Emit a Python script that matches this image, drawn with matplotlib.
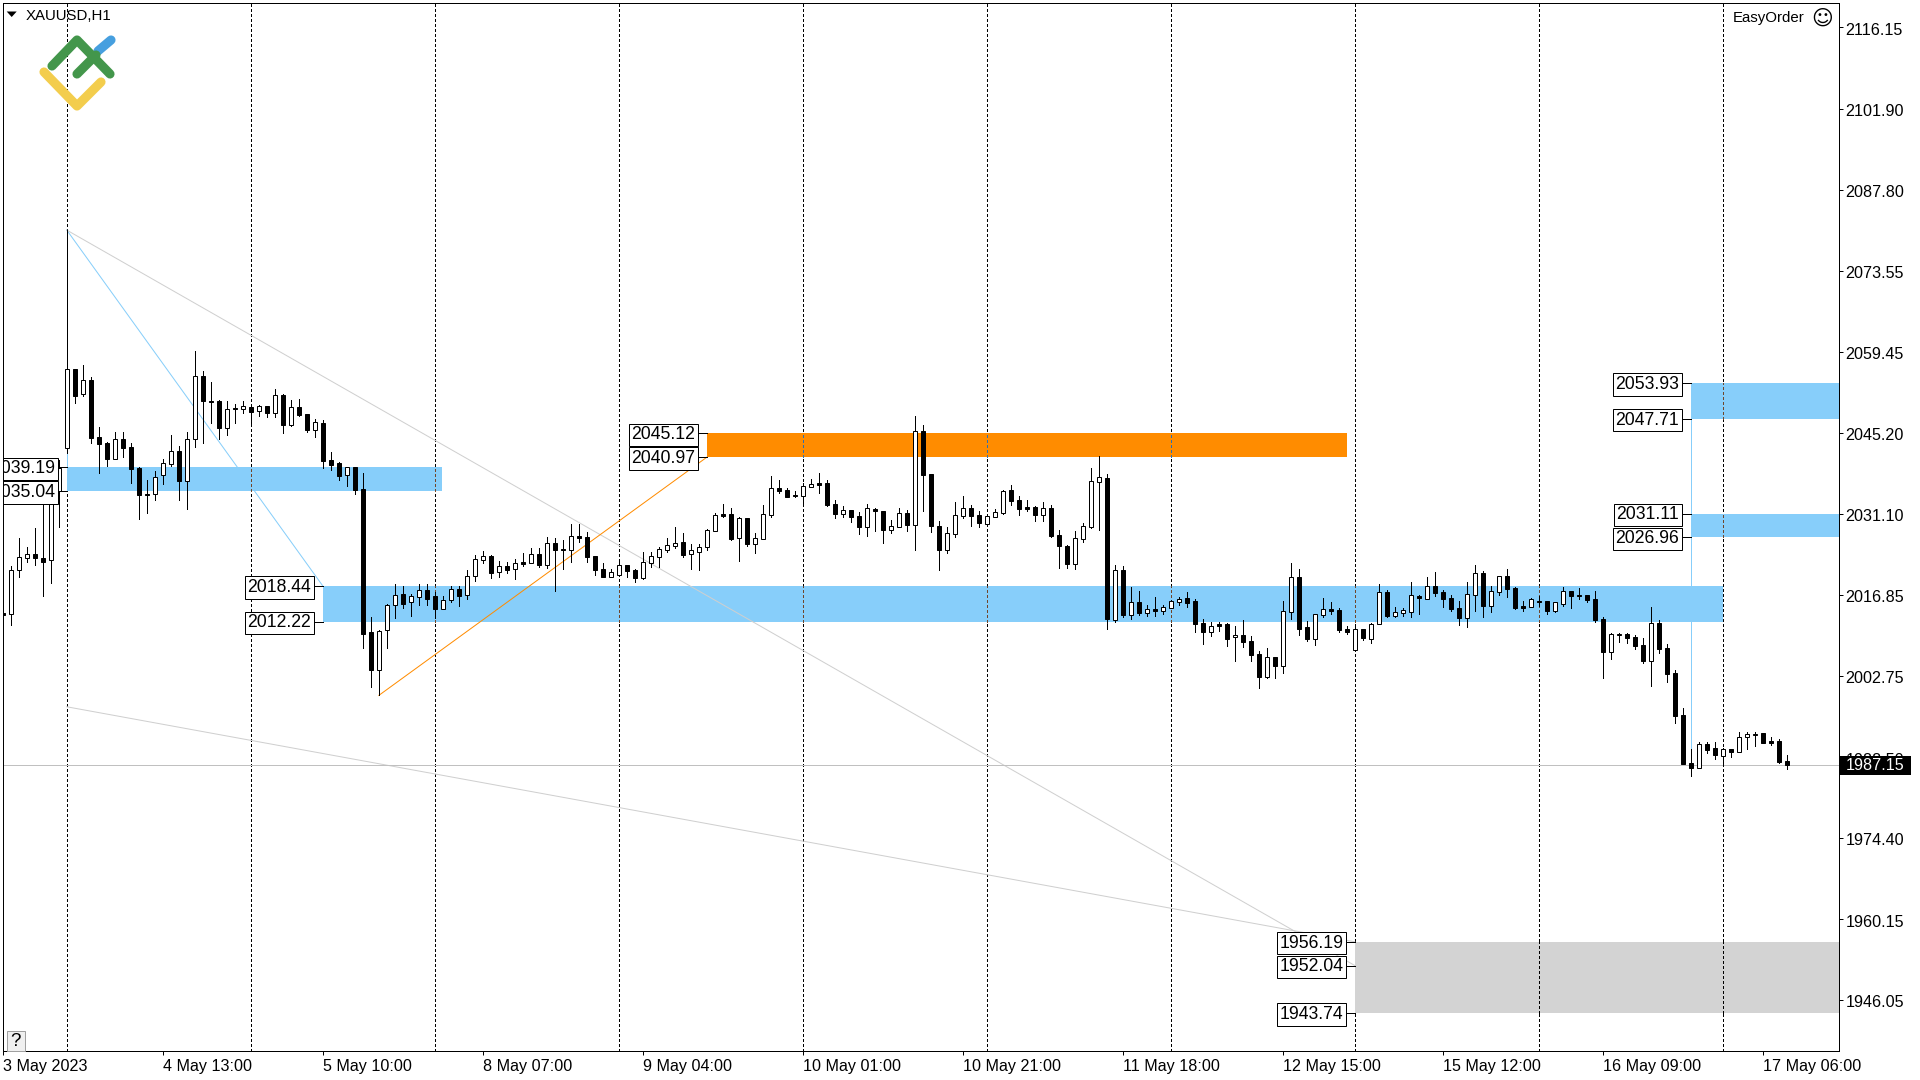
import numpy as np
import matplotlib
matplotlib.use('Agg')
import matplotlib.pyplot as plt
from matplotlib.patches import Rectangle, Polygon
from matplotlib.transforms import ScaledTranslation

plt.rcParams['font.family'] = ['Liberation Sans', 'DejaVu Sans']

# XAUUSD H1 candles, first bar is 8 bars left of the 3 May line
highs = [2020.06, 2021.92, 2026.76, 2025.30, 2028.51, 2035.21, 2035.80, 2040.46,
         2080.70, 2056.49, 2057.08, 2054.92, 2046.18, 2043.55, 2045.30, 2045.30, 2043.38, 2039.30,
         2036.96, 2038.54, 2040.64, 2044.83, 2042.91, 2045.30, 2059.53, 2056.03, 2054.10, 2050.96,
         2050.78, 2050.20, 2050.78, 2050.08, 2050.08, 2049.96, 2052.88, 2052.01, 2050.96, 2051.13,
         2048.51, 2047.57, 2047.46, 2041.80, 2040.05, 2039.30, 2039.24, 2038.13, 2012.94, 2010.73,
         2015.22, 2018.72, 2018.49, 2017.03, 2018.78, 2018.78, 2017.32, 2016.74, 2018.49, 2018.43,
         2021.23, 2023.85, 2024.55, 2023.85, 2022.74, 2022.68, 2023.09, 2024.14, 2025.07, 2025.07,
         2027.06, 2026.88, 2026.47, 2029.27, 2029.33, 2027.93, 2023.68, 2022.39, 2021.40, 2022.80,
         2022.04, 2021.40, 2024.38, 2024.43, 2025.31, 2026.77, 2028.75, 2027.70, 2025.77, 2025.77,
         2028.34, 2031.25, 2032.77, 2032.07, 2030.50, 2030.32, 2027.64, 2032.60, 2037.67, 2036.97,
         2035.51, 2035.10, 2036.50, 2037.08, 2038.19, 2036.97, 2033.47, 2032.42, 2031.72, 2031.37,
         2032.77, 2032.07, 2031.60, 2029.97, 2032.07, 2031.72, 2048.16, 2046.59, 2038.02, 2029.80,
         2028.75, 2033.12, 2034.17, 2032.60, 2031.55, 2030.85, 2031.84, 2035.22, 2036.09, 2034.17,
         2033.47, 2032.42, 2033.12, 2032.54, 2028.22, 2025.66, 2028.05, 2029.45, 2039.01, 2041.17,
         2038.02, 2022.10, 2021.93, 2018.25, 2017.55, 2015.11, 2016.50, 2015.11, 2015.98, 2016.50,
         2017.38, 2016.10, 2012.65, 2012.07, 2012.13, 2011.95, 2011.43, 2012.48, 2009.68, 2007.06,
         2007.58, 2006.01, 2015.80, 2022.45, 2021.40, 2012.30, 2013.53, 2016.33, 2015.63, 2014.58,
         2011.43, 2011.43, 2010.90, 2011.95, 2018.77, 2017.72, 2014.75, 2014.58, 2019.12, 2016.85,
         2020.00, 2020.87, 2017.72, 2016.85, 2015.80, 2019.12, 2022.10, 2021.05, 2018.42, 2020.17,
         2021.40, 2018.25, 2015.80, 2016.33, 2016.68, 2015.80, 2015.63, 2018.25, 2017.55, 2018.07,
         2016.85, 2017.55, 2012.94, 2010.14, 2010.14, 2010.14, 2009.85, 2009.27, 2014.75, 2012.42,
         2008.22, 2003.67, 1997.08, 1989.91, 1991.08, 1991.08, 1991.08, 1990.03, 1989.91, 1992.83,
         1992.83, 1992.83, 1992.65, 1991.95, 1991.66, 1988.86]

lows = [2012.19, 2011.60, 2020.06, 2022.68, 2022.10, 2016.68, 2019.01, 2028.80,
        2041.63, 2050.37, 2051.71, 2043.38, 2038.25, 2039.41, 2040.58, 2041.04, 2036.50, 2030.20,
        2031.13, 2033.52, 2036.32, 2039.41, 2033.47, 2031.95, 2042.79, 2043.38, 2046.99, 2044.19,
        2044.83, 2046.93, 2048.74, 2046.58, 2048.22, 2047.98, 2048.04, 2045.24, 2046.41, 2048.16,
        2045.36, 2044.48, 2039.06, 2038.71, 2036.96, 2035.91, 2034.52, 2007.58, 2000.82, 1999.30,
        2007.58, 2012.83, 2014.58, 2013.18, 2015.16, 2015.11, 2012.77, 2014.46, 2015.57, 2014.99,
        2016.15, 2019.30, 2022.51, 2019.89, 2020.06, 2020.76, 2019.65, 2021.98, 2022.39, 2021.81,
        2021.52, 2017.55, 2021.34, 2022.63, 2026.18, 2022.68, 2020.41, 2020.06, 2020.06, 2020.41,
        2020.00, 2019.13, 2019.71, 2021.81, 2021.81, 2024.38, 2025.07, 2023.50, 2021.46, 2021.23,
        2024.72, 2028.05, 2030.44, 2026.53, 2022.80, 2025.42, 2024.20, 2026.71, 2030.50, 2034.75,
        2033.99, 2033.99, 2033.00, 2035.80, 2034.75, 2032.42, 2030.38, 2030.55, 2029.68, 2027.52,
        2027.17, 2028.11, 2026.01, 2027.76, 2028.81, 2028.05, 2024.78, 2031.55, 2027.93, 2021.29,
        2024.20, 2027.00, 2030.32, 2028.92, 2028.81, 2029.33, 2030.55, 2031.02, 2032.60, 2030.85,
        2031.55, 2029.86, 2029.86, 2027.06, 2021.64, 2021.64, 2021.46, 2026.18, 2028.57, 2028.22,
        2010.91, 2012.19, 2013.01, 2012.72, 2013.36, 2013.18, 2013.18, 2013.59, 2014.64, 2015.16,
        2014.76, 2010.38, 2008.28, 2009.68, 2010.55, 2007.93, 2005.31, 2007.76, 2005.31, 2000.58,
        2002.33, 2002.33, 2003.21, 2012.65, 2009.85, 2008.81, 2008.11, 2013.00, 2013.53, 2010.38,
        2010.03, 2007.29, 2008.98, 2008.46, 2011.84, 2013.00, 2013.00, 2013.18, 2013.00, 2013.53,
        2016.21, 2016.68, 2014.75, 2014.05, 2011.60, 2011.25, 2014.05, 2013.00, 2013.88, 2016.85,
        2016.50, 2014.40, 2014.05, 2014.81, 2014.93, 2013.53, 2013.88, 2014.93, 2014.58, 2016.15,
        2015.63, 2012.13, 2002.33, 2005.65, 2008.63, 2008.45, 2007.40, 2004.96, 2000.93, 2006.70,
        2001.63, 1994.46, 1987.29, 1985.19, 1986.59, 1989.27, 1988.16, 1987.12, 1988.57, 1989.45,
        1989.97, 1990.50, 1990.90, 1990.61, 1987.47, 1986.42]

opens = [2013.76, 2013.47, 2021.16, 2023.38, 2023.96, 2023.32, 2022.91, 2035.10,
         2042.50, 2056.49, 2051.95, 2054.40, 2044.43, 2043.38, 2040.70, 2044.08, 2042.68, 2039.00,
         2034.52, 2034.46, 2037.78, 2039.82, 2041.98, 2036.73, 2044.19, 2055.10, 2050.84, 2050.78,
         2046.00, 2049.56, 2049.44, 2049.67, 2048.97, 2049.85, 2048.74, 2051.83, 2046.64, 2049.67,
         2048.45, 2045.77, 2046.87, 2040.46, 2039.94, 2037.78, 2039.18, 2035.33, 2010.32, 2003.79,
         2010.67, 2015.16, 2017.03, 2015.57, 2016.56, 2017.73, 2016.62, 2014.46, 2015.92, 2017.85,
         2016.80, 2020.12, 2023.03, 2023.68, 2020.82, 2021.93, 2021.34, 2022.57, 2022.45, 2023.97,
         2022.16, 2025.89, 2024.84, 2024.78, 2027.12, 2027.00, 2023.68, 2021.34, 2020.06, 2020.41,
         2022.04, 2021.17, 2019.83, 2022.51, 2023.56, 2024.72, 2025.42, 2026.12, 2024.08, 2024.43,
         2025.31, 2028.11, 2030.96, 2031.02, 2026.88, 2030.32, 2025.83, 2026.71, 2030.90, 2035.51,
         2035.22, 2034.34, 2034.11, 2035.80, 2036.44, 2036.38, 2032.71, 2031.08, 2031.66, 2030.61,
         2028.81, 2031.90, 2031.49, 2028.28, 2028.81, 2031.20, 2029.16, 2045.48, 2037.96, 2028.86,
         2024.78, 2027.58, 2030.73, 2032.01, 2030.85, 2029.33, 2030.55, 2031.25, 2035.22, 2033.47,
         2032.19, 2032.25, 2030.90, 2032.07, 2027.35, 2025.42, 2022.33, 2026.71, 2028.81, 2036.68,
         2037.32, 2012.54, 2021.23, 2013.41, 2015.63, 2013.76, 2014.35, 2014.11, 2014.64, 2015.69,
         2016.33, 2015.81, 2011.95, 2010.44, 2011.78, 2011.78, 2009.45, 2009.85, 2008.81, 2006.53,
         2002.57, 2006.01, 2004.49, 2013.94, 2020.00, 2011.25, 2009.21, 2013.41, 2014.40, 2014.23,
         2010.90, 2007.29, 2010.90, 2009.21, 2011.84, 2017.38, 2013.24, 2013.76, 2013.94, 2016.68,
         2016.21, 2018.42, 2017.38, 2016.33, 2014.58, 2012.83, 2016.91, 2020.70, 2014.98, 2017.43,
         2020.17, 2018.07, 2014.93, 2014.81, 2015.80, 2015.80, 2014.05, 2015.33, 2017.55, 2016.85,
         2016.85, 2016.15, 2012.65, 2006.94, 2009.85, 2009.97, 2009.44, 2008.05, 2005.36, 2011.89,
         2007.52, 2003.15, 1995.80, 1987.41, 1986.65, 1990.73, 1990.03, 1988.63, 1989.86, 1989.45,
         1991.95, 1992.42, 1992.65, 1991.25, 1991.31, 1987.76]

closes = [2013.41, 2021.22, 2023.44, 2023.96, 2023.26, 2022.68, 2035.10, 2039.00,
          2056.49, 2051.71, 2054.40, 2044.37, 2043.32, 2040.70, 2044.08, 2042.62, 2038.95, 2034.40,
          2034.34, 2037.55, 2039.88, 2041.98, 2036.73, 2044.19, 2055.10, 2050.84, 2050.66, 2046.06,
          2049.32, 2049.32, 2049.85, 2048.92, 2049.85, 2048.74, 2051.77, 2046.64, 2049.67, 2048.39,
          2045.71, 2047.05, 2040.35, 2039.59, 2037.72, 2039.18, 2035.21, 2010.09, 2003.79, 2010.61,
          2015.16, 2016.91, 2015.34, 2016.62, 2017.67, 2016.21, 2014.46, 2015.92, 2017.85, 2016.74,
          2020.12, 2023.09, 2023.62, 2020.76, 2021.87, 2021.23, 2022.39, 2022.33, 2023.97, 2022.16,
          2025.89, 2024.78, 2024.67, 2027.17, 2026.88, 2023.56, 2021.29, 2020.06, 2020.82, 2022.04,
          2021.11, 2019.83, 2022.57, 2023.62, 2024.84, 2025.54, 2025.89, 2023.85, 2024.67, 2025.19,
          2028.16, 2030.85, 2030.73, 2026.65, 2030.32, 2025.77, 2026.77, 2030.96, 2035.51, 2035.10,
          2033.99, 2034.17, 2035.86, 2036.21, 2036.15, 2032.60, 2031.08, 2031.66, 2030.55, 2028.81,
          2032.01, 2031.60, 2028.28, 2028.86, 2031.14, 2029.10, 2045.48, 2037.90, 2028.98, 2024.78,
          2027.64, 2030.79, 2032.01, 2030.73, 2029.51, 2030.61, 2031.31, 2034.99, 2033.35, 2031.95,
          2031.95, 2030.85, 2032.01, 2027.23, 2025.48, 2022.33, 2026.77, 2028.86, 2036.73, 2037.43,
          2012.66, 2021.17, 2013.36, 2015.57, 2013.71, 2014.35, 2014.11, 2014.70, 2015.75, 2016.10,
          2015.46, 2011.84, 2010.44, 2011.37, 2011.43, 2009.21, 2009.80, 2008.63, 2006.36, 2002.57,
          2005.95, 2004.43, 2013.99, 2020.00, 2010.90, 2009.15, 2013.47, 2014.34, 2014.05, 2010.73,
          2010.38, 2010.85, 2009.33, 2011.72, 2017.32, 2013.18, 2013.82, 2014.17, 2016.79, 2016.33,
          2018.37, 2017.20, 2016.15, 2014.40, 2012.83, 2017.03, 2020.64, 2014.93, 2017.49, 2020.12,
          2017.90, 2014.58, 2014.58, 2016.09, 2015.63, 2014.05, 2015.57, 2017.49, 2016.68, 2016.68,
          2015.98, 2012.48, 2006.94, 2009.97, 2009.97, 2009.39, 2007.99, 2005.25, 2011.89, 2007.46,
          2003.09, 1995.74, 1987.35, 1986.65, 1990.73, 1989.80, 1988.86, 1989.86, 1989.45, 1991.95,
          1992.48, 1992.54, 1991.02, 1991.02, 1987.64, 1987.15]

first_bar = -8
last_price = 1987.15

# right axis
price_ticks = [2116.15, 2101.90, 2087.80, 2073.55, 2059.45, 2045.20, 2031.10, 2016.85,
               2002.75, 1988.50, 1974.40, 1960.15, 1946.05]

# bottom axis
time_bars = [-8, 12, 32, 52, 72, 92, 112, 132, 152, 172, 192, 212]
time_labels = ['3 May 2023', '4 May 13:00', '5 May 10:00', '8 May 07:00', '9 May 04:00',
               '10 May 01:00', '10 May 21:00', '11 May 18:00', '12 May 15:00',
               '15 May 12:00', '16 May 09:00', '17 May 06:00']

# period separators
grid_bars = [0, 23, 46, 69, 92, 115, 138, 161, 184, 207]

# zones: start bar, end bar, upper price, lower price, fill, colour of separator on top
zone_starts = [0, 32, 80, 203, 203, 161]
zone_ends = [46.93, 207, 160, 221.46, 221.46, 221.46]
zone_tops = [2039.19, 2018.44, 2045.12, 2053.93, 2031.11, 1956.19]
zone_bottoms = [2035.04, 2012.22, 2040.97, 2047.71, 2026.96, 1943.74]
zone_colors = ['#87cefa', '#87cefa', '#ff8c00', '#87cefa', '#87cefa', '#d3d3d3']
zone_dash_colors = ['#70452a', '#70452a', '#2f6fb0', '#70452a', '#70452a', '#000000']

# price boxes sitting left of the zones
label_bars = [0, 0, 32, 32, 80, 80, 203, 203, 203, 203, 161, 161, 161]
label_prices = [2039.19, 2035.04, 2018.44, 2012.22, 2045.12, 2040.97, 2053.93, 2047.71,
                2031.11, 2026.96, 1956.19, 1952.04, 1943.74]

W, H = 1920, 1080
fig = plt.figure(figsize=(W/100, H/100), dpi=100, facecolor='w')
ax = fig.add_axes([2.5/W, 1-1051/H, (1838.5-2.5)/W, (1051-2.5)/H])
ax.set_xlim(-8.04, 221.46)
ax.set_ylim(1937.09, 2120.52)

LW = 0.72  # one pixel
DASH = (0, (2.4, 2.6))

ax.vlines(grid_bars, 1937.09, 2120.52, color='k', lw=LW, linestyles=DASH, zorder=1, antialiased=False)

for x0, x1, top, bot, c, dc in zip(zone_starts, zone_ends, zone_tops, zone_bottoms, zone_colors, zone_dash_colors):
    ax.add_patch(Rectangle((x0, bot), x1-x0, top-bot, fc=c, ec='none', zorder=2))
    inside = [g for g in grid_bars if x0 < g < x1]
    ax.vlines(inside, bot, top, color=dc, lw=LW, linestyles=DASH, zorder=2.1, antialiased=False)

# trend lines
ax.plot([0, 161], [2080.70, 1952.04], color='#cfcfcf', lw=LW, zorder=3)
ax.plot([0, 161], [1997.31, 1956.19], color='#cfcfcf', lw=LW, zorder=3)
ax.plot([0, 32], [2080.70, 2018.44], color='#87cefa', lw=LW, zorder=1.5)
ax.plot([0, 0], [2080.70, 2035.04], color='#87cefa', lw=LW, zorder=1.5)
ax.plot([203, 203], [2047.71, 1985.19], color='#87cefa', lw=LW, zorder=1.5)
ax.plot([39, 80], [1999.30, 2040.97], color='#ff8c00', lw=LW, zorder=3)

ax.axhline(last_price, color='#c0c0c0', lw=LW, zorder=3)

# candles
bars = np.arange(len(highs)) + first_bar
o = np.array(opens)
c = np.array(closes)
ax.vlines(bars, lows, highs, color='k', lw=LW, zorder=4, antialiased=False)
body_colors = ['w' if cl > op else 'k' for op, cl in zip(o, c)]
ax.bar(bars, np.abs(c-o), bottom=np.minimum(o, c), width=0.5, color=body_colors,
       edgecolor='k', linewidth=LW, zorder=5)

# price boxes
for b, p in zip(label_bars, label_prices):
    ax.plot([b-1.25, b], [p, p], color='k', lw=LW, zorder=6, antialiased=False)
    ax.annotate('{:.2f}'.format(p), xy=(b-1.25, p), xytext=(-1.2, -1.0), textcoords='offset points',
                ha='right', va='center', fontsize=12.7, color='k', zorder=7, annotation_clip=False,
                clip_on=True, clip_box=ax.bbox,
                bbox=dict(boxstyle='square,pad=0.15', fc='w', ec='k', lw=LW))

# axes
for s in ax.spines.values():
    s.set_linewidth(LW)
    s.set_zorder(8)
ax.yaxis.tick_right()
ax.set_yticks(price_ticks)
ax.set_yticklabels(['{:.2f}'.format(t) for t in price_ticks])
ax.tick_params(axis='y', length=2.9, width=LW, pad=2.2, labelsize=11.6)
down = ScaledTranslation(0, -1/72, fig.dpi_scale_trans)
for t in ax.get_yticklabels():
    t.set_transform(t.get_transform() + down)
ax.set_xticks(time_bars)
ax.set_xticklabels(time_labels, ha='left')
ax.tick_params(axis='x', length=2.9, width=LW, pad=2.5, labelsize=11.6)

# last price tag on the axis
fig.add_artist(Rectangle((1840/W, 1-775/H), 71/W, 19/H, transform=fig.transFigure, fc='k', ec='none', zorder=10))
fig.text(1845.5/W, 1-766/H, '{:.2f}'.format(last_price), color='w', fontsize=11.6, va='center', zorder=11)

# header
fig.add_artist(Polygon([(6.7/W, 1-11.5/H), (16.7/W, 1-11.5/H), (11.7/W, 1-17/H)], closed=True,
                       transform=fig.transFigure, fc='k', ec='none', zorder=10))
fig.text(25.5/W, 1-15.5/H, 'XAUUSD,H1', fontsize=10.8, va='center', color='k', zorder=11)
fig.text(1733/W, 1-18/H, 'EasyOrder', fontsize=10.8, va='center', color='k', zorder=11)
fig.text(1822.5/W, 1-19/H, '\u263a', family='DejaVu Sans', fontsize=15, ha='center', va='center', color='k', zorder=11)

# help button
fig.add_artist(Rectangle((6.5/W, 1-1050.5/H), 18/W, 20/H, transform=fig.transFigure, fc='#f0f0f0', ec='#a0a0a0',
                         lw=LW, zorder=10))
fig.text(15.5/W, 1-1041/H, '?', fontsize=13.5, ha='center', va='center', color='k', zorder=11)

# logo
def logo_stroke(xs, ys, color):
    fig.add_artist(plt.Line2D(np.array(xs)/W, 1-np.array(ys)/H, transform=fig.transFigure, color=color, lw=6.6,
                              solid_capstyle='round', solid_joinstyle='round', zorder=9))

logo_stroke([98, 111], [51, 40], '#469fdf')
logo_stroke([52, 77, 110], [66, 40, 74], '#43964b')
logo_stroke([77, 96], [74, 55], '#43964b')
logo_stroke([44, 77, 101], [72, 106, 82], '#f3cd4d')

fig.savefig('out.png', dpi=100)
